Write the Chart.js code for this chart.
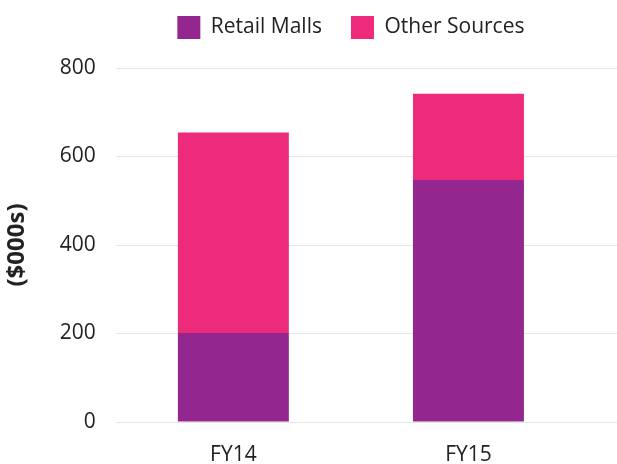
<!DOCTYPE html>
<html>
<head>
<meta charset="utf-8">
<script src="https://cdn.jsdelivr.net/npm/chart.js@4"></script>
<style>
  html, body { margin: 0; padding: 0; background: #fff; }
  #wrap { width: 617px; height: 464px; }
</style>
</head>
<body>
<div id="wrap"><canvas id="revenueChart"></canvas></div>
<script>
const years = ['FY14', 'FY15'];
const retailMalls = [201, 547];
const otherSources = [453, 195];

const fontFamily = '"Open Sans", sans-serif';
const textColor = '#222222';
const gridColor = '#e6e6e6';

// grid lines run out to the right edge of the picture
const gridToEdge = {
  id: 'gridToEdge',
  beforeDatasetsDraw(chart) {
    const { ctx, chartArea, scales } = chart;
    const y = scales.y;
    ctx.save();
    ctx.strokeStyle = gridColor;
    ctx.lineWidth = 1;
    y.ticks.forEach(t => {
      const py = Math.round(y.getPixelForValue(t.value) - 0.5) + 0.5;
      ctx.beginPath();
      ctx.moveTo(chartArea.right, py);
      ctx.lineTo(chart.width, py);
      ctx.stroke();
    });
    ctx.restore();
  }
};

// more room between the legend and the plot
const legendGap = {
  id: 'legendGap',
  beforeInit(chart) {
    const fit = chart.legend.fit;
    chart.legend.fit = function () {
      fit.call(this);
      this.height += 19;
    };
  }
};

new Chart(document.getElementById('revenueChart'), {
  type: 'bar',
  data: {
    labels: years,
    datasets: [
      {
        label: 'Retail Malls',
        data: retailMalls,
        backgroundColor: '#93278f',
        categoryPercentage: 1,
        barPercentage: 0.472
      },
      {
        label: 'Other Sources',
        data: otherSources,
        backgroundColor: '#ee2a7b',
        categoryPercentage: 1,
        barPercentage: 0.472
      }
    ]
  },
  options: {
    responsive: true,
    maintainAspectRatio: false,
    animation: false,
    layout: { padding: { top: -13, right: 31, left: 0, bottom: 0 } },
    plugins: {
      legend: {
        position: 'top',
        fullSize: false,
        labels: {
          boxWidth: 23,
          boxHeight: 23,
          padding: 29,
          color: textColor,
          font: { family: fontFamily, size: 21 }
        }
      },
      tooltip: { enabled: false }
    },
    scales: {
      x: {
        stacked: true,
        grid: { display: false, drawTicks: true, tickLength: 24 },
        border: { display: false },
        ticks: {
          color: textColor,
          padding: 0,
          font: { family: fontFamily, size: 21, lineHeight: 0.857 }
        }
      },
      y: {
        stacked: true,
        min: 0,
        max: 800,
        border: { display: false },
        grid: { color: gridColor, drawTicks: false },
        ticks: {
          stepSize: 200,
          padding: 20,
          color: textColor,
          font: { family: fontFamily, size: 21 }
        },
        title: {
          display: true,
          text: '($000s)',
          color: textColor,
          padding: { top: 3, bottom: 8 },
          font: { family: fontFamily, size: 24, weight: 'bold' }
        }
      }
    }
  },
  plugins: [gridToEdge, legendGap]
});
</script>
</body>
</html>
